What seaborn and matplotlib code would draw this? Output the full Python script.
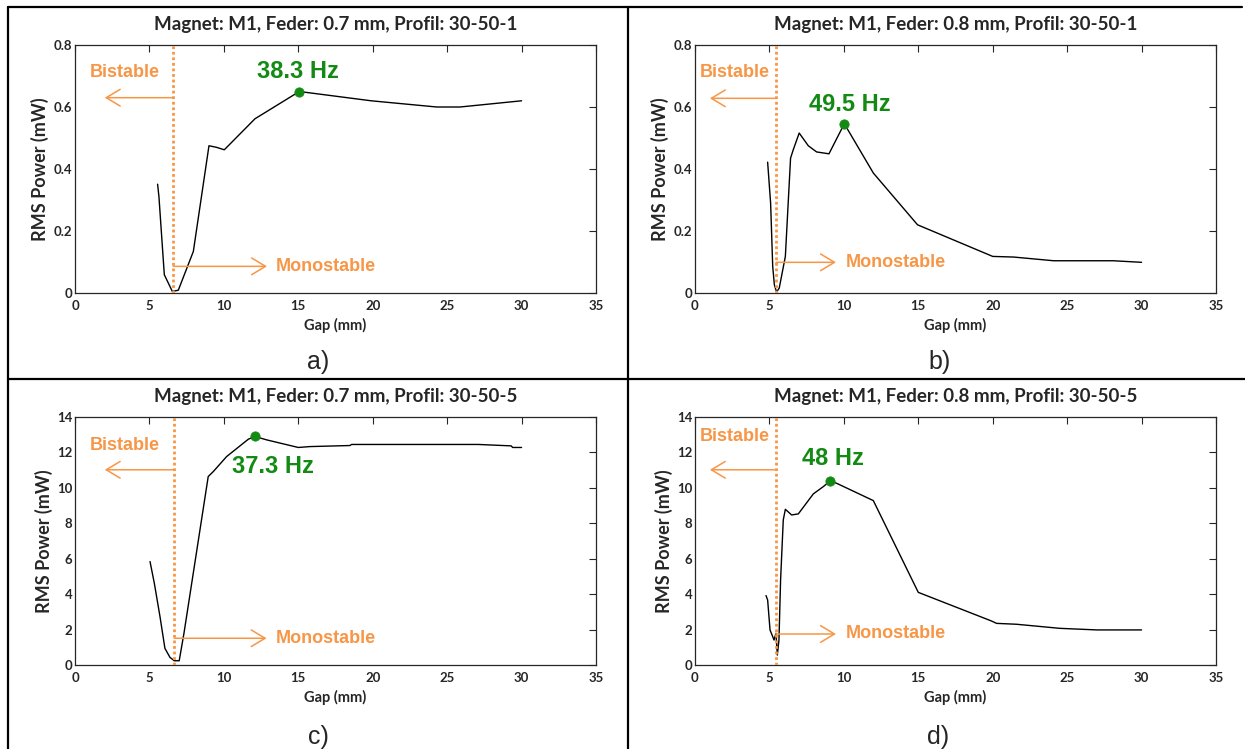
import numpy as np
import pandas as pd
import seaborn as sns
import matplotlib.pyplot as plt
from matplotlib import font_manager
from matplotlib.lines import Line2D
from matplotlib.ticker import FuncFormatter

# Data
gap_a = [5.55, 5.64, 6.0, 6.54, 6.94, 7.95, 9.0, 9.5, 10.03, 12.09, 15.07, 19.9, 24.3, 25.86, 30.0]
power_a = [0.351, 0.31, 0.059, 0.005, 0.009, 0.134, 0.475, 0.47, 0.462, 0.562, 0.65, 0.62, 0.60, 0.60, 0.62]

gap_b = [4.88, 4.99, 5.08, 5.22, 5.33, 5.48, 5.66, 6.07, 6.42, 6.6, 7.0, 7.61, 8.17, 9.0, 10.03,
         11.98, 14.95, 20.0, 21.4, 24.1, 28.1, 30.0]
power_b = [0.422, 0.349, 0.29, 0.086, 0.027, 0.003, 0.016, 0.118, 0.435, 0.462, 0.516, 0.475, 0.455,
           0.449, 0.546, 0.387, 0.22, 0.118, 0.116, 0.104, 0.104, 0.099]

gap_c = [5.04, 5.33, 5.71, 6.04, 6.38, 6.67, 7.0, 7.32, 8.95, 9.29, 10.19, 11.65, 12.09, 12.87, 15.0,
         15.78, 18.47, 18.58, 27.1, 29.3, 29.4, 30.0]
power_c = [5.84, 4.61, 2.73, 0.94, 0.43, 0.24, 0.24, 1.79, 10.64, 10.92, 11.77, 12.75, 12.9, 12.71,
           12.28, 12.33, 12.39, 12.45, 12.45, 12.37, 12.28, 12.28]

gap_d = [4.77, 4.88, 5.04, 5.31, 5.44, 5.53, 5.64, 5.75, 5.93, 6.07, 6.49, 6.94, 7.28, 7.95, 8.62,
         9.07, 9.51, 11.98, 15.0, 19.9, 20.26, 21.6, 24.5, 27.0, 30.0]
power_d = [3.92, 3.67, 1.98, 1.41, 1.79, 0.56, 1.41, 4.8, 8.19, 8.79, 8.47, 8.53, 8.91, 9.66, 10.07,
           10.38, 10.26, 9.28, 4.1, 2.49, 2.35, 2.3, 2.07, 1.98, 1.98]

titles = ["Magnet: M1, Feder: 0.7 mm, Profil: 30-50-1",
          "Magnet: M1, Feder: 0.8 mm, Profil: 30-50-1",
          "Magnet: M1, Feder: 0.7 mm, Profil: 30-50-5",
          "Magnet: M1, Feder: 0.8 mm, Profil: 30-50-5"]
peak_labels = ["38.3 Hz", "49.5 Hz", "37.3 Hz", "48 Hz"]
thresholds = [6.6, 5.44, 6.67, 5.42]
panel_tags = ["a)", "b)", "c)", "d)"]
x_ticks = [0, 5, 10, 15, 20, 25, 30, 35]
y_ticks_top = [0, 0.2, 0.4, 0.6, 0.8]
y_ticks_bottom = [0, 2, 4, 6, 8, 10, 12, 14]

ORANGE = "#F79646"
GREEN = "#138A13"
FRAME = "#262626"

sns.set_style("white")
avail = {f.name for f in font_manager.fontManager.ttflist}
narrow = next(f for f in ["Liberation Sans Narrow", "Lato", "DejaVu Sans"] if f in avail)
plt.rcParams["font.family"] = ["Liberation Sans", "DejaVu Sans"]

fig = plt.figure(figsize=(12.45, 7.49), dpi=100)
W, H = 1245, 749


def axes_box(left, top, right, bottom):
    return [left / W, 1 - bottom / H, (right - left) / W, (bottom - top) / H]


boxes = [axes_box(75, 45, 596, 293), axes_box(695, 45, 1216, 293),
         axes_box(75, 417, 596, 665), axes_box(695, 417, 1216, 665)]
series = [(gap_a, power_a), (gap_b, power_b), (gap_c, power_c), (gap_d, power_d)]

# layout of the annotations per panel: (hz x, hz y, bistable x, bistable y,
# bistable arrow y, bistable arrow tip, mono arrow y, mono arrow tip, mono text x)
notes = [(15.0, 0.714, 0.96, 0.71, 0.63, 2.0, 0.086, 12.9, 13.5),
         (10.4, 0.607, 0.34, 0.71, 0.628, 1.0, 0.099, 9.47, 10.1),
         (13.3, 11.2, 0.96, 12.37, 11.02, 2.0, 1.51, 12.87, 13.5),
         (9.3, 11.68, 0.34, 12.9, 11.02, 1.0, 1.75, 9.47, 10.1)]

for i in range(4):
    ax = fig.add_axes(boxes[i])
    gx, py = series[i]
    df = pd.DataFrame({"gap": gx, "power": py})
    sns.lineplot(data=df, x="gap", y="power", ax=ax, color="black", lw=1,
                 estimator=None, sort=False)
    peak = df.loc[df["power"].idxmax()]
    sns.scatterplot(x=[peak["gap"]], y=[peak["power"]], ax=ax, color=GREEN,
                    s=45, edgecolor=GREEN, zorder=5)
    thr = thresholds[i]
    ax.axvline(thr, color=ORANGE, ls=(0, (1, 1)), lw=2, zorder=3)

    hx, hy, bx, by, bay, bat, may, mat, mx = notes[i]
    ax.text(hx, hy, peak_labels[i], color=GREEN, fontsize=17, fontweight="bold",
            ha="center", va="center")
    ax.text(bx, by, "Bistable", color=ORANGE, fontsize=13, fontweight="bold",
            ha="left", va="center")
    ax.text(mx, may, "Monostable", color=ORANGE, fontsize=13, fontweight="bold",
            ha="left", va="center")
    arrow = dict(arrowstyle="->,head_length=0.5,head_width=0.3", color=ORANGE,
                 lw=1.1, mutation_scale=20, shrinkA=0, shrinkB=0)
    ax.annotate("", xy=(bat, bay), xytext=(thr, bay), arrowprops=arrow)
    ax.annotate("", xy=(mat, may), xytext=(thr, may), arrowprops=arrow)

    ax.set_xlim(0, 35)
    ax.set_xticks(x_ticks)
    if i < 2:
        ax.set_ylim(0, 0.8)
        ax.set_yticks(y_ticks_top)
    else:
        ax.set_ylim(0, 14)
        ax.set_yticks(y_ticks_bottom)
    ax.yaxis.set_major_formatter(FuncFormatter(lambda v, p: "%g" % v))
    ax.tick_params(direction="in", top=True, right=True, length=5, width=0.8,
                   color=FRAME, pad=2, labelsize=9.5, labelcolor=FRAME)
    ax.tick_params(axis="x", pad=5)
    for lab in ax.get_xticklabels() + ax.get_yticklabels():
        lab.set_family([narrow, "DejaVu Sans"])
        lab.set_fontweight("bold")
    for sp in ax.spines.values():
        sp.set_visible(True)
        sp.set_color(FRAME)
        sp.set_linewidth(0.9)
    ax.set_xlabel("Gap (mm)", fontsize=10.5, fontweight="bold",
                  family=[narrow, "DejaVu Sans"], labelpad=4)
    ax.set_ylabel("RMS Power (mW)", fontsize=13, fontweight="bold",
                  family=[narrow, "DejaVu Sans"], labelpad=3)
    ax.set_title(titles[i], fontsize=13.5, fontweight="bold",
                 family=[narrow, "DejaVu Sans"], pad=11)

# panel tags under each plot
tag_pos = [(318, 362), (940, 362), (318, 737), (938, 737)]
for tag, (tx, ty) in zip(panel_tags, tag_pos):
    fig.text(tx / W, 1 - ty / H, tag, fontsize=18, ha="center", va="center")

# table-like frame lines
frame_lines = [((8, 7), (1242, 7)), ((8, 7), (8, 749)), ((628, 7), (628, 749)),
               ((8, 379), (1245, 379))]
for (x0, y0), (x1, y1) in frame_lines:
    fig.add_artist(Line2D([x0 / W, x1 / W], [1 - y0 / H, 1 - y1 / H],
                          color="black", lw=1.6, transform=fig.transFigure))

fig.savefig("out.png", dpi=100)
